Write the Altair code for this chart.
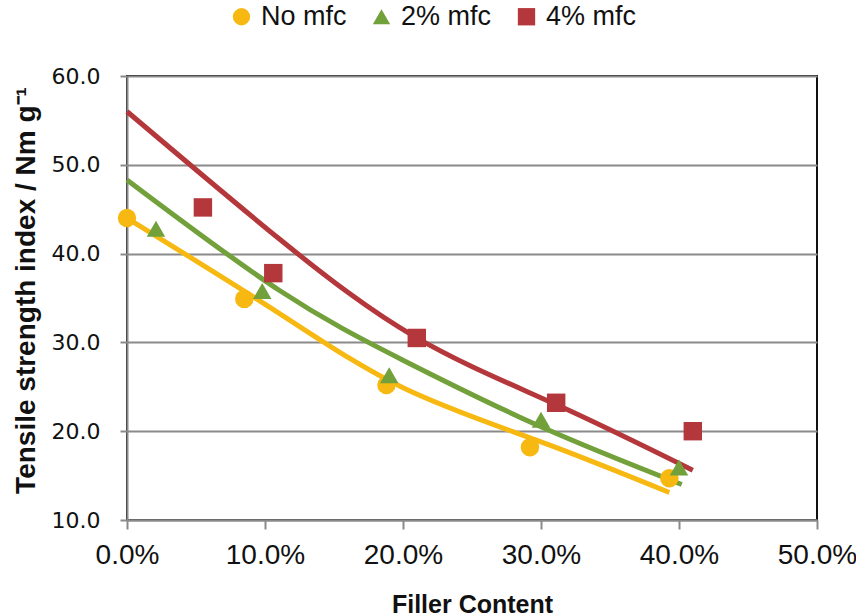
import altair as alt
import pandas as pd

series_names = ["No mfc", "2% mfc", "4% mfc"]
colors = ["#F7B812", "#72A03A", "#B4383B"]
shapes = ["circle", "triangle-up", "square"]

x_nomfc = [0.0, 0.085, 0.188, 0.292, 0.393]
y_nomfc = [44.0, 34.9, 25.2, 18.2, 14.7]
x_2mfc = [0.021, 0.098, 0.190, 0.300, 0.400]
y_2mfc = [42.8, 35.8, 26.3, 21.3, 15.9]
x_4mfc = [0.055, 0.106, 0.210, 0.311, 0.410]
y_4mfc = [45.2, 37.8, 30.5, 23.2, 20.0]

lx_nomfc = [0.0, 0.11, 0.20, 0.30, 0.393]
ly_nomfc = [44.0, 33.3, 24.9, 18.8, 13.1]
lx_2mfc = [0.0, 0.11, 0.20, 0.30, 0.402]
ly_2mfc = [48.3, 35.9, 28.0, 20.5, 14.0]
lx_4mfc = [0.0, 0.11, 0.209, 0.311, 0.41]
ly_4mfc = [56.0, 41.7, 30.6, 23.0, 15.6]

x_ticks = [0.0, 0.1, 0.2, 0.3, 0.4, 0.5]
y_ticks = [10, 20, 30, 40, 50, 60]

pts = pd.concat([
    pd.DataFrame({"x": xs, "y": ys, "series": name})
    for xs, ys, name in [(x_nomfc, y_nomfc, "No mfc"), (x_2mfc, y_2mfc, "2% mfc"), (x_4mfc, y_4mfc, "4% mfc")]
])
lines = pd.concat([
    pd.DataFrame({"x": xs, "y": ys, "series": name, "order": list(range(len(xs)))})
    for xs, ys, name in [(lx_nomfc, ly_nomfc, "No mfc"), (lx_2mfc, ly_2mfc, "2% mfc"), (lx_4mfc, ly_4mfc, "4% mfc")]
])

AXIS_GRAY = "#8a8a8a"

xenc = alt.X("x:Q", scale=alt.Scale(domain=[0, 0.5], nice=False, zero=False),
             axis=alt.Axis(values=x_ticks, format=".1%", title="Filler Content",
                           grid=False, domainColor=AXIS_GRAY, domainWidth=2,
                           tickColor=AXIS_GRAY, tickWidth=2, tickSize=9, labelFlush=False,
                           labelFont="Liberation Sans", labelFontSize=28, labelColor="#111111",
                           labelPadding=12,
                           titleFont="Liberation Sans", titleFontSize=25, titleFontWeight="bold",
                           titleColor="#111111", titleX=345, titleY=84, titleBaseline="middle",
                           titleAlign="center"))
yenc = alt.Y("y:Q", scale=alt.Scale(domain=[10, 60], nice=False, zero=False),
             axis=alt.Axis(values=y_ticks, format=".1f",
                           title="Tensile strength index / Nm g⁻¹",
                           grid=True, gridColor=AXIS_GRAY, gridWidth=2,
                           domainColor=AXIS_GRAY, domainWidth=2,
                           tickColor=AXIS_GRAY, tickWidth=2, tickSize=7, labelFlush=False,
                           labelFont="DejaVu Sans", labelFontSize=22, labelColor="#111111",
                           labelPadding=20,
                           titleFont="Liberation Sans", titleFontSize=28, titleFontWeight="bold",
                           titleColor="#111111", titleAngle=-90, titleX=-101, titleY=214,
                           titleAlign="center", titleBaseline="middle"))

color_scale = alt.Scale(domain=series_names, range=colors)


def make_legend():
    return alt.Legend(orient="none", direction="horizontal", legendX=101, legendY=-73,
                      labelFont="Liberation Sans", labelFontSize=27,
                      labelColor="#111111", symbolSize=300, labelOffset=6,
                      columnPadding=21, symbolOpacity=1, symbolStrokeWidth=0)


line_layer = alt.Chart(lines).mark_line(strokeWidth=5, interpolate="natural").encode(
    x=xenc, y=yenc,
    detail="series:N",
    stroke=alt.Stroke("series:N", scale=color_scale, legend=None),
    order="order:Q",
)

point_layer = alt.Chart(pts).mark_point(filled=True, opacity=1, size=340).encode(
    x=xenc, y=yenc,
    fill=alt.Fill("series:N", scale=color_scale, sort=series_names, title=None,
                  legend=make_legend()),
    shape=alt.Shape("series:N", scale=alt.Scale(domain=series_names, range=shapes),
                    sort=series_names, title=None, legend=make_legend()),
)

chart = alt.layer(line_layer, point_layer).resolve_legend(
    stroke="independent", fill="independent", shape="independent"
).properties(
    width=690, height=444,
    autosize=alt.AutoSizeParams(type="none"),
    padding={"left": 127, "top": 76, "right": 39, "bottom": 96},
    background="white",
).configure_view(stroke="#111111", strokeWidth=2)

chart.save("out.html", embed_options={"renderer": "svg", "actions": False})
